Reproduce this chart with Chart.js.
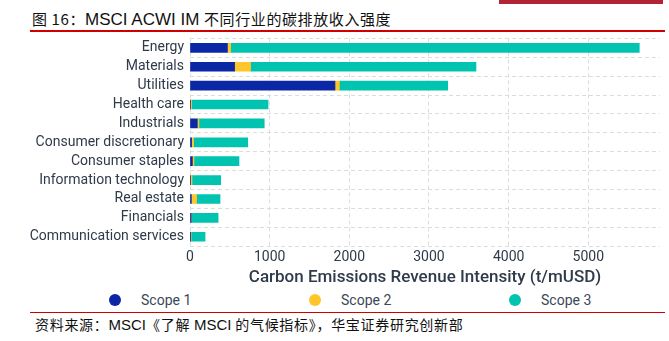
<!DOCTYPE html>
<html>
<head>
<meta charset="utf-8">
<script src="https://cdn.jsdelivr.net/npm/chart.js@4.4.1/dist/chart.umd.min.js"></script>
<style>
  body { margin: 0; background: #fff; width: 669px; height: 341px; position: relative; overflow: hidden; }
  #topbar { position: absolute; left: 499px; top: 0; width: 164px; height: 4px; background: #b02435; }
  #title { position: absolute; left: 32px; top: 8px; font: 17px "Liberation Sans Narrow", "Liberation Sans", "Noto Sans CJK SC", sans-serif; color: #111; white-space: nowrap; }
  #title .cn { font-family: "Noto Sans CJK SC", sans-serif; font-size: 15px; letter-spacing: 0.6px; }
  #rule1 { position: absolute; left: 30px; top: 30px; width: 635px; height: 2px; background: #d00000; }
  #wrap { position: absolute; left: 0; top: 24px; width: 669px; height: 263px; }
  #legend { position: absolute; left: 0; top: 291px; width: 669px; height: 18px; }
  .item { position: absolute; top: 0; font: 14px Roboto, sans-serif; color: #3b4757; line-height: 18px; }
  .dot { position: absolute; top: 3px; width: 12px; height: 12px; border-radius: 50%; }
  #rule2 { position: absolute; left: 30px; top: 312px; width: 635px; height: 1px; background: #d00000; }
  #source { position: absolute; left: 35px; top: 314px; font: 15px "Liberation Sans Narrow", "Liberation Sans", "Noto Sans CJK SC", sans-serif; color: #111; white-space: nowrap; }
  #source .cn { font-family: "Noto Sans CJK SC", sans-serif; font-size: 14px; letter-spacing: 0.7px; }
</style>
</head>
<body>
<div id="topbar"></div>
<div id="title"><span class="cn">图 16：</span>MSCI ACWI IM <span class="cn">不同行业的碳排放收入强度</span></div>
<div id="rule1"></div>
<div id="wrap"><canvas id="chart" width="669" height="263"></canvas></div>
<div id="legend"></div>
<div id="rule2"></div>
<div id="source"><span class="cn">资料来源：</span>MSCI<span class="cn">《了解 </span>MSCI<span class="cn"> 的气候指标》，华宝证券研究创新部</span></div>
<script>
const sectors = ['Energy', 'Materials', 'Utilities', 'Health care', 'Industrials',
  'Consumer discretionary', 'Consumer staples', 'Information technology',
  'Real estate', 'Financials', 'Communication services'];
const scope1 = [470, 560, 1820, 5, 92, 20, 30, 8, 17, 15, 2];
const scope2 = [40, 200, 55, 15, 20, 25, 20, 17, 65, 3, 12];
const scope3 = [5130, 2830, 1360, 960, 820, 680, 565, 360, 295, 335, 175];
const seriesNames = ['Scope 1', 'Scope 2', 'Scope 3'];
const seriesColors = ['#0b27a6', '#ffc62b', '#00c4b0'];
const xTicks = [0, 1000, 2000, 3000, 4000, 5000];

const textColor = '#2f3a4a';
const gridColor = '#dcdcdc';

new Chart(document.getElementById('chart'), {
  type: 'bar',
  data: {
    labels: sectors,
    datasets: [scope1, scope2, scope3].map((d, i) => ({
      label: seriesNames[i],
      data: d,
      backgroundColor: seriesColors[i],
      barThickness: 9
    }))
  },
  options: {
    indexAxis: 'y',
    responsive: false,
    animation: false,
    layout: { padding: { top: 3, right: 9, bottom: 1, left: 0 } },
    plugins: {
      legend: { display: false },
      tooltip: { enabled: false }
    },
    scales: {
      x: {
        stacked: true,
        min: 0,
        max: 5900,
        afterBuildTicks: (scale) => { scale.ticks = xTicks.map(v => ({ value: v })); },
        grid: { color: gridColor, drawTicks: false },
        border: { display: false, dash: [4, 3] },
        ticks: {
          padding: 3, color: textColor, font: { family: 'Roboto', size: 14 },
          callback: (v) => String(v)
        },
        title: {
          display: true,
          text: 'Carbon Emissions Revenue Intensity (t/mUSD)',
          color: textColor,
          padding: { top: 0, bottom: 0 },
          font: { family: 'Roboto', size: 17, weight: '500', lineHeight: 1 }
        }
      },
      y: {
        stacked: true,
        afterFit: (scale) => { scale.width = 190; },
        grid: { color: gridColor, drawTicks: false },
        border: { display: false, dash: [4, 3] },
        ticks: { autoSkip: false, padding: 6, color: textColor, font: { family: 'Roboto', size: 14 } }
      }
    }
  }
});

// legend built from the series arrays
const legend = document.getElementById('legend');
const dotX = [109, 309, 509];
seriesNames.forEach((name, i) => {
  const dot = document.createElement('div');
  dot.className = 'dot';
  dot.style.left = dotX[i] + 'px';
  dot.style.background = seriesColors[i];
  legend.appendChild(dot);
  const t = document.createElement('div');
  t.className = 'item';
  t.style.left = (dotX[i] + 32) + 'px';
  t.textContent = name;
  legend.appendChild(t);
});
</script>
</body>
</html>
